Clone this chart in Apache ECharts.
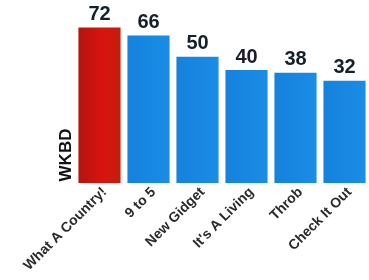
<!DOCTYPE html>
<html>
<head>
<meta charset="utf-8">
<script src="https://cdn.jsdelivr.net/npm/echarts@6/dist/echarts.min.js"></script>
<style>
  html, body { margin: 0; padding: 0; background: #fff; }
  #chart { width: 369px; height: 280px; }
</style>
</head>
<body>
<div id="chart"></div>
<script>
const shows = ["What A Country!", "9 to 5", "New Gidget", "It's A Living", "Throb", "Check It Out"];
const ratings = [72, 66, 50, 40, 38, 32];
const highlight = "What A Country!";
const yMin = -45;
const yMax = 80;

let myChart = echarts.init(document.getElementById("chart"), null, { renderer: "canvas" });

const red = new echarts.graphic.LinearGradient(0, 0, 1, 0, [
  { offset: 0, color: "#b3150e" },
  { offset: 0.55, color: "#d8130f" },
  { offset: 1, color: "#c21f0c" }
]);
const blue = new echarts.graphic.LinearGradient(0, 0, 1, 0, [
  { offset: 0, color: "#1582dc" },
  { offset: 1, color: "#1a8de6" }
]);

// bars are drawn from the bottom of the axis, not from zero
function renderBar(params, api) {
  const idx = api.value(0);
  const v = api.value(1);
  const top = api.coord([idx, v]);
  const bot = api.coord([idx, yMin]);
  const w = api.size([1, 0])[0] * 0.86;
  return {
    type: "group",
    children: [
      {
        type: "rect",
        shape: { x: top[0] - w / 2, y: top[1], width: w, height: bot[1] - top[1] },
        style: { fill: shows[idx] === highlight ? red : blue }
      },
      {
        type: "text",
        x: top[0],
        y: top[1] - 3,
        style: {
          text: String(v),
          fill: "#14202c",
          font: "bold 20px Liberation Sans",
          align: "center",
          verticalAlign: "bottom"
        }
      }
    ]
  };
}

let option = {
  animation: false,
  grid: { left: 75, right: -6, top: 17, bottom: 97 },
  xAxis: {
    type: "category",
    data: shows,
    axisLine: { show: false },
    axisTick: { show: false },
    axisLabel: {
      rotate: 45,
      margin: 2,
      interval: 0,
      verticalAlign: "top",
      color: "#2a2a2a",
      fontFamily: "Liberation Sans",
      fontWeight: "bold",
      fontSize: 14
    }
  },
  yAxis: {
    type: "value",
    min: yMin,
    max: yMax,
    show: false
  },
  graphic: [
    {
      type: "text",
      x: 66,
      y: 155,
      rotation: Math.PI / 2,
      style: {
        text: "WKBD",
        fill: "#111",
        font: "bold 17px Liberation Sans",
        align: "center",
        verticalAlign: "middle"
      }
    }
  ],
  series: [
    {
      type: "custom",
      renderItem: renderBar,
      encode: { x: 0, y: 1 },
      data: ratings.map((v, i) => [i, v])
    }
  ]
};

myChart.setOption(option);
</script>
</body>
</html>
